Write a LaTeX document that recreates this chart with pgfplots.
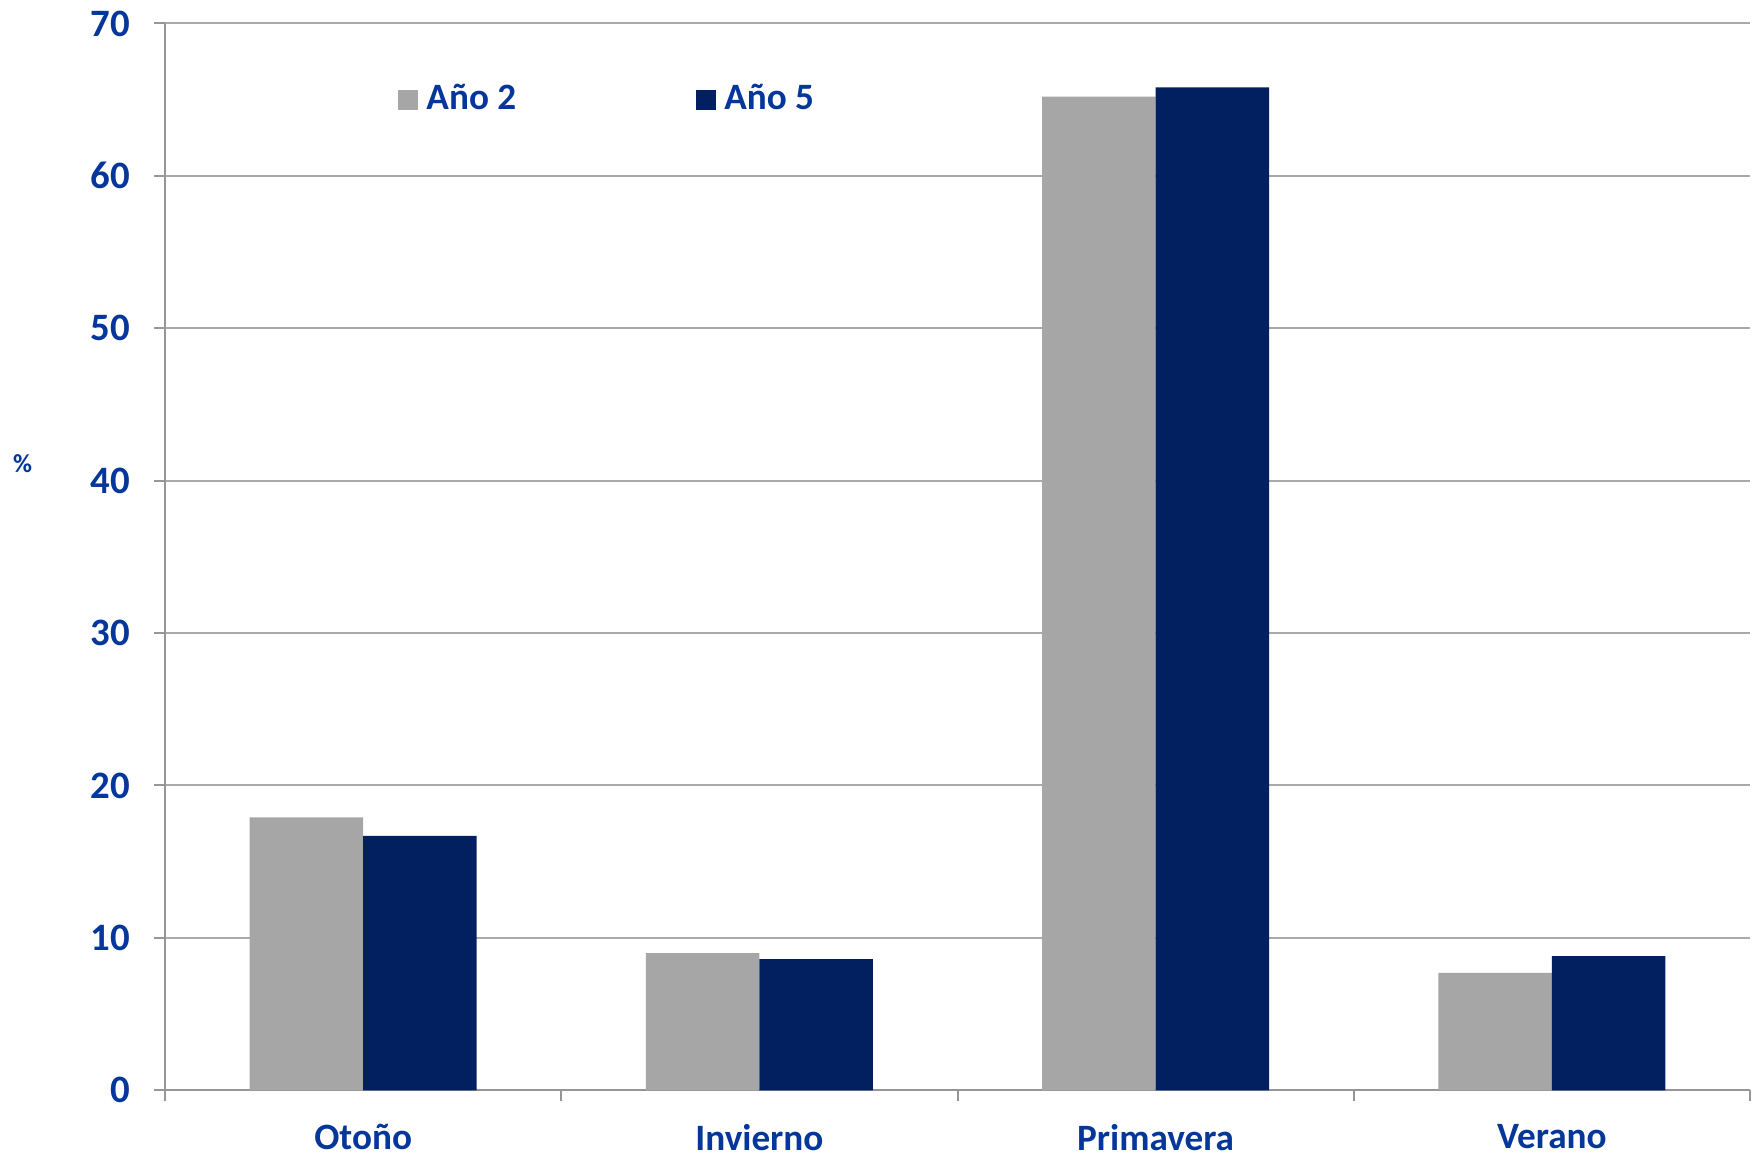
\documentclass[border=0pt]{standalone}
\usepackage{fontspec}
\setmainfont{Carlito}
\usepackage{pgfplots}
\pgfplotsset{compat=1.18}
\definecolor{labelblue}{RGB}{5,55,155}
\definecolor{navybar}{RGB}{2,32,96}
\definecolor{graybar}{RGB}{166,166,166}
\definecolor{gridgray}{RGB}{170,170,170}
\definecolor{axisgray}{RGB}{150,150,150}
\begin{document}
\begin{tikzpicture}
\begin{axis}[
  width=396.25pt, height=266.7pt, scale only axis,
  ybar=0pt, bar width=28.4pt,
  ymin=0, ymax=70, ytick={0,10,...,70},
  xmin=-0.5, xmax=3.5,
  xtick={0,1,2,3},
  xticklabels={Otoño,Invierno,Primavera,Verano},
  minor xtick={-0.5,0.5,1.5,2.5,3.5},
  major x tick style={draw=none},
  minor tick length=2.75pt, major tick length=2.75pt,
  tick align=outside,
  axis x line*=bottom, axis y line*=left,
  axis line style={axisgray, line width=0.5pt},
  every tick/.style={axisgray, line width=0.5pt},
  ymajorgrids, grid style={gridgray, line width=0.5pt},
  /pgf/number format/assume math mode=true,
  ticklabel style={font=\bfseries\fontsize{9.3}{11}\selectfont, text=labelblue},
  yticklabel style={xshift=-2.4pt, font=\bfseries\fontsize{9.7}{11}\selectfont},
  xticklabel style={yshift=-2.3pt},
  ylabel={\%},
  every axis y label/.style={at={(rel axis cs:0,0.587)}, xshift=-35.6pt, anchor=center, rotate=0, font=\bfseries\fontsize{6.5}{8}\selectfont, text=labelblue},
  legend style={at={(rel axis cs:0.1468,0.9284)}, anchor=west, draw=none, fill=none, inner sep=0pt,
    font=\bfseries\fontsize{9.3}{11}\selectfont, text=labelblue,
    /tikz/every odd column/.append style={column sep=0pt},
    /tikz/every even column/.append style={column sep=43pt}},
  legend columns=2,
  legend image code/.code={\fill[#1] (0pt,-2.5pt) rectangle (5pt,2.5pt);},
  clip=false,
]
\addplot[fill=graybar, draw=none] coordinates {(0,17.9) (1,9.0) (2,65.2) (3,7.7)};
\addplot[fill=navybar, draw=none] coordinates {(0,16.7) (1,8.6) (2,65.8) (3,8.8)};
\legend{Año 2, Año 5}
\coordinate (bbsw) at (rel axis cs:-0.1041,-0.0614);
\coordinate (bbne) at (rel axis cs:1.00694,1.0220);
\end{axis}
\pgfresetboundingbox
\path[use as bounding box] (bbsw) rectangle (bbne);
\end{tikzpicture}
\end{document}
